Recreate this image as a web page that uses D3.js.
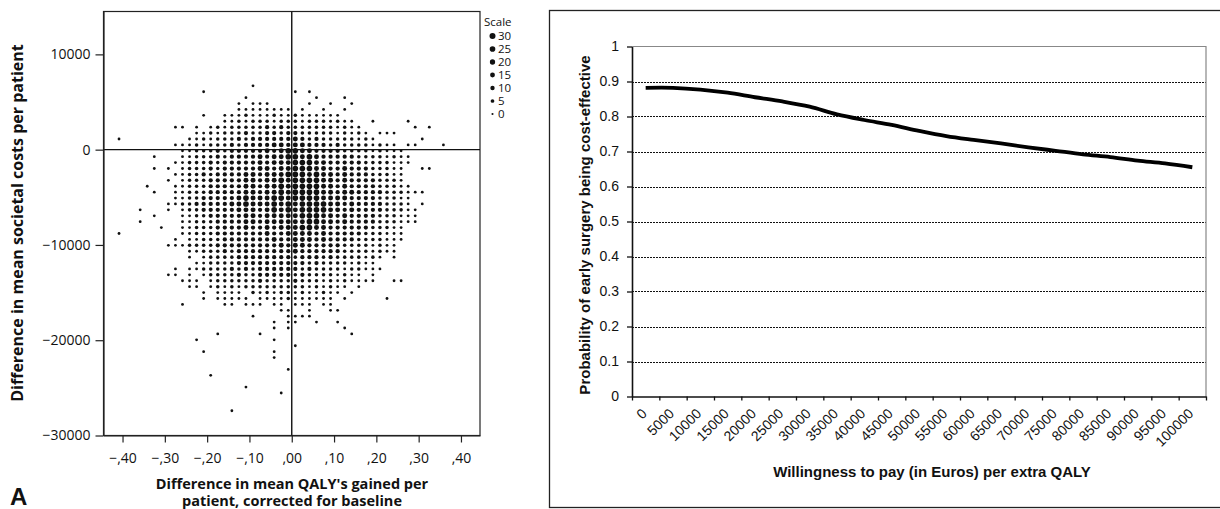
<!DOCTYPE html>
<html>
<head>
<meta charset="utf-8">
<script src="https://cdn.jsdelivr.net/npm/d3@7"></script>
<style>
  body { margin: 0; background: #fff; }
  svg { display: block; }
</style>
</head>
<body>
<div id="wrapper"></div>
<script>
// ---- panel A: binned scatter of bootstrap replications ----
const qalyBinStart = -0.4083, qalyBinWidth = 0.01667
const costBinStart = 6700, costBinStep = -620
// one string per cost row (top to bottom): "firstColumn:classes", "." = empty bin
const scatterRows = [
    "19:1",
    "12:1............1.1",
    "18:1.........1...1",
    "17:1.111.....1..1..1",
    "17:11111111.1..1..1",
    "12:1..11121112112111111",
    "15:1121222122212221211..1....1",
    "8:11.1.1212222232322222221211.......1.1",
    "11:1121222322332332222212121.111",
    "0:1.........112122232333333432322222121......1",
    "8:11121222323333443443332322221211.11...1",
    "9:11222323333343455443333222212111",
    "5:1...112223233334344554543333322221211",
    "8:1122232333334344455544333332222111",
    "5:1.1.12223233333443445554433433322211..11",
    "8:112232333344344455545443433322211",
    "7:1.12223333344344545555443433332221",
    "4:1...1122233333443445455554434333322211",
    "5:1..112223333344344545555443443333222111",
    "8:1122333334544455455554444333322211",
    "7:11223333344544454545555443433332221.1",
    "3:1...1.1223333344434545455554434333322211",
    "5:1...1122333334434444455544343333222111",
    "3:1.....1122233334434444445544343333222111",
    "6:1..11222333343343444554433333322211",
    "0:1........11222333333343344443433333222111",
    "8:1.1122233333334334443433332222111",
    "7:111222233333333343443333322221211",
    "10:112223233333333433333322221211",
    "10:1.12222333333332333232222121.1",
    "11:11222233333333332322221211",
    "8:1.1122223232333333232222122111",
    "7:11.1.12222322333332322221211.1",
    "9:111.122222232222322212121111..11",
    "10:11.12121222222222121211.1",
    "12:1.1111.2121221211211.1",
    "12:1.11111.11112111111.1.....1",
    "9:1.....11.111.11.111.11",
    "23:11..1..11",
    "19:1....1111",
    "22:1.11..1..1",
    "22:1.1.......1",
    "14:1.....1............1",
    "11:1..........1",
    "25:1",
    "12:1.........1",
    "22:1",
    "",
    "24:1",
    "13:1",
    "",
    "18:1",
    "23:1",
    "",
    "",
    "16:1"
]
const classCounts = [0, 1, 4, 9, 16, 25]
const legendCounts = [30, 25, 20, 15, 10, 5, 0]
const qalyTicks = [-0.4, -0.3, -0.2, -0.1, 0, 0.1, 0.2, 0.3, 0.4]
const qalyTickLabels = ["\u2212,40", "\u2212,30", "\u2212,20", "\u2212,10", ",00", ",10", ",20", ",30", ",40"]
const costTicks = [10000, 0, -10000, -20000, -30000]
const costTickLabels = ["10000", "0", "\u221210000", "\u221220000", "\u221230000"]

// ---- panel B: acceptability curve ----
const wtp = [0, 5000, 10000, 15000, 20000, 25000, 30000, 35000, 40000, 45000, 50000,
             55000, 60000, 65000, 70000, 75000, 80000, 85000, 90000, 95000, 100000]
const probCostEffective = [0.882, 0.882, 0.877, 0.868, 0.855, 0.843, 0.828, 0.806, 0.790, 0.776, 0.759,
                           0.744, 0.733, 0.723, 0.712, 0.702, 0.692, 0.684, 0.674, 0.666, 0.655]
const probTicks = [0, 0.1, 0.2, 0.3, 0.4, 0.5, 0.6, 0.7, 0.8, 0.9, 1]
const probTickLabels = ["0", "0.1", "0.2", "0.3", "0.4", "0.5", "0.6", "0.7", "0.8", "0.9", "1"]

const cells = []
scatterRows.forEach((row, m) => {
    if (!row) return
    const [start, pattern] = row.split(":")
    ;[...pattern].forEach((ch, i) => {
        if (ch === ".") return
        cells.push({
            qaly: qalyBinStart + (+start + i) * qalyBinWidth,
            cost: costBinStart + m * costBinStep,
            count: classCounts[+ch]
        })
    })
})

const svg = d3.select("#wrapper").append("svg")
    .attr("width", 1220)
    .attr("height", 509)

const spss = "'Open Sans', 'DejaVu Sans', sans-serif"
const arial = "'Liberation Sans', Arial, sans-serif"

// ===== left panel =====
const xL = d3.scaleLinear().domain([-0.445, 0.445]).range([103.5, 480])
const yL = d3.scaleLinear().domain([-30000, 14500]).range([435.5, 11.5])
const rL = d3.scaleSqrt().domain([0, 30]).range([1.05, 3.0])

const left = svg.append("g")

left.append("g")
    .selectAll("circle")
    .data(cells)
    .join("circle")
        .attr("cx", d => xL(d.qaly))
        .attr("cy", d => yL(d.cost))
        .attr("r", d => rL(d.count))
        .attr("fill", "#111")

left.append("rect")
    .attr("x", xL.range()[0]).attr("y", yL.range()[1])
    .attr("width", xL.range()[1] - xL.range()[0])
    .attr("height", yL.range()[0] - yL.range()[1])
    .attr("fill", "none").attr("stroke", "#222").attr("stroke-width", 1.2)

// reference lines through the origin
left.append("line")
    .attr("x1", xL(0)).attr("x2", xL(0))
    .attr("y1", yL.range()[1]).attr("y2", yL.range()[0])
    .attr("stroke", "#111").attr("stroke-width", 1.4)
left.append("line")
    .attr("x1", xL.range()[0]).attr("x2", xL.range()[1])
    .attr("y1", yL(0)).attr("y2", yL(0))
    .attr("stroke", "#111").attr("stroke-width", 1.4)

const yAxisL = left.append("g")
    .attr("transform", `translate(${xL.range()[0]},0)`)
    .call(d3.axisLeft(yL).tickValues(costTicks)
        .tickFormat((d, i) => costTickLabels[i]).tickSize(8).tickPadding(5).tickSizeOuter(0))
const xAxisL = left.append("g")
    .attr("transform", `translate(0,${yL.range()[0]})`)
    .call(d3.axisBottom(xL).tickValues(qalyTicks)
        .tickFormat((d, i) => qalyTickLabels[i]).tickSize(7).tickPadding(11).tickSizeOuter(0))
;[yAxisL, xAxisL].forEach(ax => {
    ax.select(".domain").attr("stroke", "#222").attr("stroke-width", 1.2)
    ax.selectAll(".tick line").attr("stroke", "#222").attr("stroke-width", 1.2)
    ax.selectAll("text").attr("font-family", spss).attr("font-size", 14).attr("fill", "#111")
})

left.append("text")
    .attr("transform", "translate(23,223) rotate(-90)")
    .attr("text-anchor", "middle")
    .attr("font-family", spss).attr("font-size", 16).attr("font-weight", "bold").attr("fill", "#111")
    .text("Difference in mean societal costs per patient")
left.append("text")
    .attr("x", 292).attr("y", 489)
    .attr("text-anchor", "middle")
    .attr("font-family", spss).attr("font-size", 14.5).attr("font-weight", "bold").attr("fill", "#111")
    .text("Difference in mean QALY's gained per")
left.append("text")
    .attr("x", 292).attr("y", 506)
    .attr("text-anchor", "middle")
    .attr("font-family", spss).attr("font-size", 14.5).attr("font-weight", "bold").attr("fill", "#111")
    .text("patient, corrected for baseline")
left.append("text")
    .attr("x", 10).attr("y", 505)
    .attr("font-family", arial).attr("font-size", 24).attr("font-weight", "bold").attr("fill", "#111")
    .text("A")

// size legend
const legend = left.append("g").attr("transform", "translate(484,0)")
legend.append("text")
    .attr("x", 0).attr("y", 26)
    .attr("font-family", spss).attr("font-size", 11.5).attr("fill", "#111")
    .text("Scale")
const legendY = d3.scalePoint().domain(legendCounts).range([36, 114])
legend.selectAll("circle")
    .data(legendCounts)
    .join("circle")
        .attr("cx", 8.5)
        .attr("cy", d => legendY(d))
        .attr("r", d => rL(d))
        .attr("fill", "#111")
legend.selectAll("text.lab")
    .data(legendCounts)
    .join("text")
        .attr("class", "lab")
        .attr("x", 14).attr("y", d => legendY(d) + 4)
        .attr("font-family", spss).attr("font-size", 11.5).attr("fill", "#111")
        .text(d => d)

// ===== right panel =====
const right = svg.append("g")
right.append("rect")
    .attr("x", 549.5).attr("y", 10.5)
    .attr("width", 700).attr("height", 497)
    .attr("fill", "none").attr("stroke", "#222").attr("stroke-width", 1.3)

const xR = d3.scaleBand().domain(wtp).range([632, 1206])
const yR = d3.scaleLinear().domain([0, 1]).range([396.5, 46.5])
const xEdge = d3.scaleLinear().domain([0, wtp.length]).range(xR.range())

right.append("g")
    .selectAll("line")
    .data(probTicks.filter(d => d > 0 && d < 1))
    .join("line")
        .attr("x1", xR.range()[0]).attr("x2", xR.range()[1])
        .attr("y1", d => Math.round(yR(d)) + 0.5).attr("y2", d => Math.round(yR(d)) + 0.5)
        .attr("stroke", "#111").attr("stroke-width", 1).attr("stroke-dasharray", "2,1")

// plot-area border (top and right)
right.append("path")
    .attr("d", `M${xR.range()[0]},${yR(1)}H${xR.range()[1]}V${yR(0)}`)
    .attr("fill", "none").attr("stroke", "#888").attr("stroke-width", 1.2)

const yAxisR = right.append("g")
    .attr("transform", `translate(${xR.range()[0]},0)`)
    .call(d3.axisLeft(yR).tickValues(probTicks)
        .tickFormat((d, i) => probTickLabels[i]).tickSize(5).tickPadding(8).tickSizeOuter(0))
const xAxisR = right.append("g")
    .attr("transform", `translate(0,${yR(0)})`)
    .call(d3.axisBottom(xEdge).tickValues(d3.range(wtp.length + 1))
        .tickFormat("").tickSize(4).tickSizeOuter(0))
;[yAxisR, xAxisR].forEach(ax => {
    ax.select(".domain").attr("stroke", "#111").attr("stroke-width", 1.6)
    ax.selectAll(".tick line").attr("stroke", "#111").attr("stroke-width", 1.3)
    ax.selectAll("text").attr("font-family", arial).attr("font-size", 14).attr("fill", "#111")
})

right.append("g")
    .selectAll("text")
    .data(wtp)
    .join("text")
        .attr("transform", d => `translate(${xR(d) + xR.bandwidth() / 2 + 2},${yR(0) + 18}) rotate(-45)`)
        .attr("text-anchor", "end")
        .attr("font-family", arial).attr("font-size", 14).attr("fill", "#111")
        .text(d => d)

const line = d3.line()
    .x((d, i) => xR(wtp[i]) + xR.bandwidth() / 2)
    .y(d => yR(d))
    .curve(d3.curveCatmullRom)
right.append("path")
    .attr("d", line(probCostEffective))
    .attr("fill", "none").attr("stroke", "#000").attr("stroke-width", 3.8)
    .attr("stroke-linecap", "butt")

right.append("text")
    .attr("transform", "translate(590,225) rotate(-90)")
    .attr("text-anchor", "middle")
    .attr("font-family", arial).attr("font-size", 15).attr("font-weight", "bold").attr("fill", "#111")
    .text("Probability of early surgery being cost-effective")
right.append("text")
    .attr("x", 932).attr("y", 477)
    .attr("text-anchor", "middle")
    .attr("font-family", arial).attr("font-size", 15).attr("font-weight", "bold").attr("fill", "#111")
    .text("Willingness to pay (in Euros) per extra QALY")
</script>
</body>
</html>
